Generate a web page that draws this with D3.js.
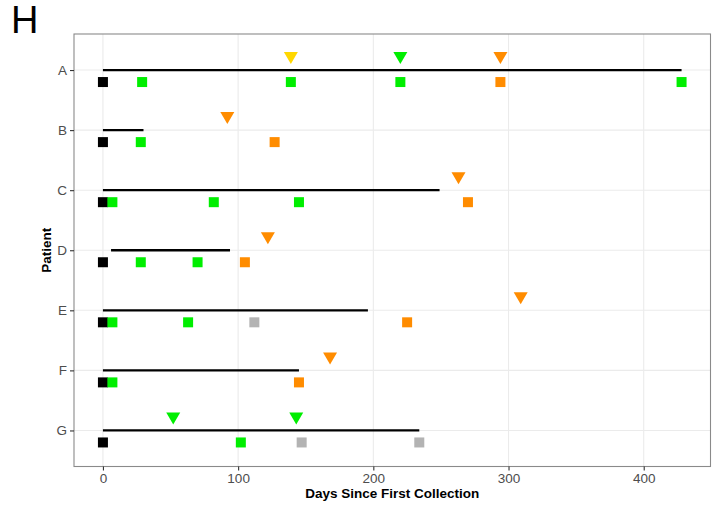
<!DOCTYPE html>
<html><head><meta charset="utf-8">
<script src="https://cdn.jsdelivr.net/npm/d3@7"></script>
<style>body{margin:0;background:#fff}svg{display:block}text{font-family:"Liberation Sans",Arial,sans-serif}</style>
</head><body>
<script>
const patients = ["A","B","C","D","E","F","G"];
const lineStart = [0,0,0,6,0,0,0];
const lineEnd = [428,30,249,94,196,145,234];

const sqPatient = ["A","A","A","A","A","A","B","B","B","C","C","C","C","C","D","D","D","D","E","E","E","E","E","F","F","F","G","G","G","G"];
const sqDay =     [0,29,139,220,294,428, 0,28,127, 0,7,82,145,270, 0,28,70,105, 0,7,63,112,225, 0,7,145, 0,102,147,234];
const sqStatus =  ["base","pos","pos","pos","res","pos","base","pos","res","base","pos","pos","pos","res","base","pos","pos","res","base","pos","pos","na","res","base","pos","res","base","pos","na","na"];

const triPatient = ["A","A","A","B","C","D","E","F","G","G"];
const triDay =     [139,220,294,92,263,122,309,168,52,143];
const triStatus =  ["mid","pos","res","res","res","res","res","res","pos","pos"];

const xTicks = [0,100,200,300,400];
const statusColor = {base:"#000000",pos:"#00EE00",res:"#FF8C00",na:"#B3B3B3",mid:"#FFD700"};

const W=726,H=506;
const pl=74, pr=710.5, pt=34, pb=466.5;
const svg = d3.select("body").append("svg").attr("width",W).attr("height",H);

const dmax = d3.max(sqDay.concat(lineEnd));
const pad = dmax*0.05;
const x = d3.scaleLinear().domain([-pad, dmax+pad]).range([pl,pr]);
const y = d3.scalePoint().domain(patients).range([pt,pb]).padding(0.6);

// grid
const g = svg.append("g");
g.selectAll(".gx").data(xTicks).join("line")
  .attr("x1",d=>x(d)).attr("x2",d=>x(d)).attr("y1",pt).attr("y2",pb)
  .attr("stroke","#ebebeb").attr("stroke-width",1.1);
g.selectAll(".gy").data(patients).join("line")
  .attr("y1",d=>y(d)).attr("y2",d=>y(d)).attr("x1",pl).attr("x2",pr)
  .attr("stroke","#ebebeb").attr("stroke-width",1.1);

// lines
g.selectAll(".seg").data(patients).join("line")
  .attr("x1",(d,i)=>x(lineStart[i])).attr("x2",(d,i)=>x(lineEnd[i]))
  .attr("y1",d=>y(d)).attr("y2",d=>y(d))
  .attr("stroke","#000").attr("stroke-width",2.3);

// squares
const s=10;
g.selectAll(".sq").data(sqDay).join("rect")
  .attr("x",(d)=>x(d)-s/2).attr("y",(d,i)=>y(sqPatient[i])+12-s/2)
  .attr("width",s).attr("height",s)
  .attr("fill",(d,i)=>statusColor[sqStatus[i]]);

// triangles
const tw=14, th=12;
g.selectAll(".tri").data(triDay).join("path")
  .attr("d",(d,i)=>{const cx=x(d), cy=y(triPatient[i])-12;
    return `M${cx-tw/2},${cy-th/2}L${cx+tw/2},${cy-th/2}L${cx},${cy+th/2}Z`;})
  .attr("fill",(d,i)=>statusColor[triStatus[i]]);

// border
svg.append("rect").attr("x",pl).attr("y",pt).attr("width",pr-pl).attr("height",pb-pt)
  .attr("fill","none").attr("stroke","#8a8a8a").attr("stroke-width",1.1);

// axes
const xa = svg.append("g").attr("transform",`translate(0,${pb})`)
  .call(d3.axisBottom(x).tickValues(xTicks).tickSize(4).tickPadding(3).tickFormat(d3.format("d")));
const ya = svg.append("g").attr("transform",`translate(${pl},0)`)
  .call(d3.axisLeft(y).tickSize(4).tickPadding(3));
[xa,ya].forEach(a=>{
  a.select(".domain").remove();
  a.selectAll(".tick line").attr("stroke","#333").attr("stroke-width",1.1);
  a.selectAll(".tick text").attr("fill","#4d4d4d").attr("font-size",13.5).attr("font-family","Liberation Sans, Arial, sans-serif");
});

svg.append("text").attr("x",(pl+pr)/2).attr("y",498).attr("text-anchor","middle")
  .attr("font-weight","bold").attr("font-size",13.5).attr("fill","#000").text("Days Since First Collection");
svg.append("text").attr("transform",`translate(51,${(pt+pb)/2}) rotate(-90)`).attr("text-anchor","middle")
  .attr("font-weight","bold").attr("font-size",13.5).attr("fill","#000").text("Patient");
svg.append("text").attr("x",11).attr("y",33).attr("font-size",38).attr("fill","#000").text("H");
</script>
</body></html>
